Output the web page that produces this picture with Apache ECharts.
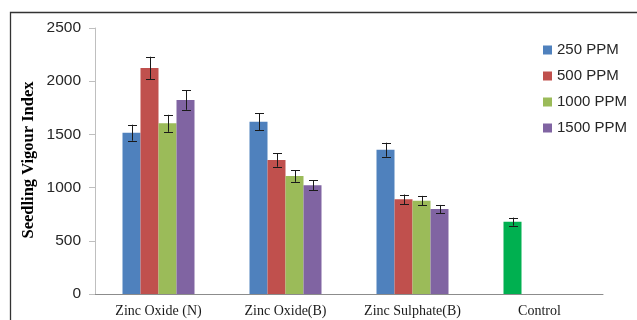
<!DOCTYPE html>
<html>
<head>
<meta charset="utf-8">
<script src="https://cdn.jsdelivr.net/npm/echarts@6/dist/echarts.min.js"></script>
<style>
  html, body { margin: 0; padding: 0; background: #fff; }
  #chart { width: 637px; height: 320px; }
</style>
</head>
<body>
<div id="chart"></div>
<script>
// Seedling vigour index by zinc source and dose
const categories = ['Zinc Oxide (N)', 'Zinc Oxide(B)', 'Zinc Sulphate(B)', 'Control'];
const seriesNames = ['250 PPM', '500 PPM', '1000 PPM', '1500 PPM'];

const ppm250  = [1516, 1619, 1356, 680];
const ppm500  = [2124, 1259, 890, null];
const ppm1000 = [1604, 1109, 877, null];
const ppm1500 = [1823, 1021, 799, null];

const err250  = [75, 80, 66, 38];
const err500  = [106, 63, 45, null];
const err1000 = [80, 55, 45, null];
const err1500 = [92, 48, 38, null];

const yTicks = [0, 500, 1000, 1500, 2000, 2500];

const colors = ['#4F81BD', '#C0504D', '#9BBB59', '#8064A2'];
const controlColor = '#00B050';
const BAR_W = 18;

const values = [ppm250, ppm500, ppm1000, ppm1500];
const errors = [err250, err500, err1000, err1500];

const barSeries = values.map((vals, si) => ({
  name: seriesNames[si],
  type: 'bar',
  barWidth: BAR_W,
  barGap: '0%',
  itemStyle: { color: colors[si] },
  data: vals.map((v, ci) => {
    if (v == null) return '-';
    if (categories[ci] === 'Control') {
      return { value: v, itemStyle: { color: controlColor } };
    }
    return v;
  })
}));

const errorSeries = values.map((vals, si) => ({
  type: 'custom',
  silent: true,
  z: 5,
  data: vals.map((v, ci) => v == null ? null : [ci, v - errors[si][ci], v + errors[si][ci]])
            .filter(d => d !== null),
  renderItem: function (params, api) {
    const ci = api.value(0);
    const lo = api.coord([ci, api.value(1)]);
    const hi = api.coord([ci, api.value(2)]);
    const x = Math.round(lo[0] + (si - 1.5) * BAR_W) + 0.5;
    const cap = 4.5;
    const style = { stroke: '#1a1a1a', lineWidth: 1 };
    return {
      type: 'group',
      children: [
        { type: 'line', shape: { x1: x, y1: lo[1], x2: x, y2: hi[1] }, style: style },
        { type: 'line', shape: { x1: x - cap, y1: Math.round(lo[1]) + 0.5, x2: x + cap, y2: Math.round(lo[1]) + 0.5 }, style: style },
        { type: 'line', shape: { x1: x - cap, y1: Math.round(hi[1]) + 0.5, x2: x + cap, y2: Math.round(hi[1]) + 0.5 }, style: style }
      ]
    };
  }
}));

const chart = echarts.init(document.getElementById('chart'), null, { renderer: 'canvas' });
chart.setOption({
  animation: false,
  backgroundColor: '#ffffff',
  graphic: [{
    type: 'rect',
    shape: { x: 10.5, y: 12.5, width: 700, height: 400 },
    style: { fill: 'none', stroke: '#333333', lineWidth: 1.3 },
    silent: true
  }, {
    type: 'text',
    left: 20,
    top: 'middle',
    rotation: Math.PI / 2,
    style: {
      text: 'Seedling Vigour Index',
      font: 'bold 16.5px "Liberation Serif", "Times New Roman", serif',
      fill: '#000000'
    }
  }],
  legend: {
    data: seriesNames,
    orient: 'vertical',
    left: 543,
    top: 41,
    padding: 0,
    icon: 'rect',
    itemWidth: 9,
    itemHeight: 9,
    itemGap: 8,
    textStyle: {
      fontFamily: '"Liberation Sans", Arial, sans-serif',
      fontSize: 15,
      lineHeight: 18,
      color: '#262626'
    }
  },
  grid: { left: 95, right: 34, top: 28, bottom: 26, containLabel: false },
  xAxis: {
    type: 'category',
    data: categories,
    axisLine: { lineStyle: { color: '#8c8c8c', width: 1 } },
    axisTick: { show: false },
    axisLabel: {
      margin: 10,
      fontFamily: '"Liberation Serif", "Times New Roman", serif',
      fontSize: 14,
      color: '#1a1a1a'
    },
    splitLine: { show: false }
  },
  yAxis: {
    type: 'value',
    min: 0,
    max: yTicks[yTicks.length - 1],
    interval: yTicks[1] - yTicks[0],
    axisLine: { show: true, lineStyle: { color: '#bfbfbf', width: 1 } },
    axisTick: { show: true, length: 6, lineStyle: { color: '#bfbfbf' } },
    axisLabel: {
      margin: 14,
      formatter: function (v) { return String(v); },
      fontFamily: '"Liberation Sans", Arial, sans-serif',
      fontSize: 15.5,
      color: '#262626'
    },
    splitLine: { show: false }
  },
  series: barSeries.concat(errorSeries)
});
</script>
</body>
</html>
